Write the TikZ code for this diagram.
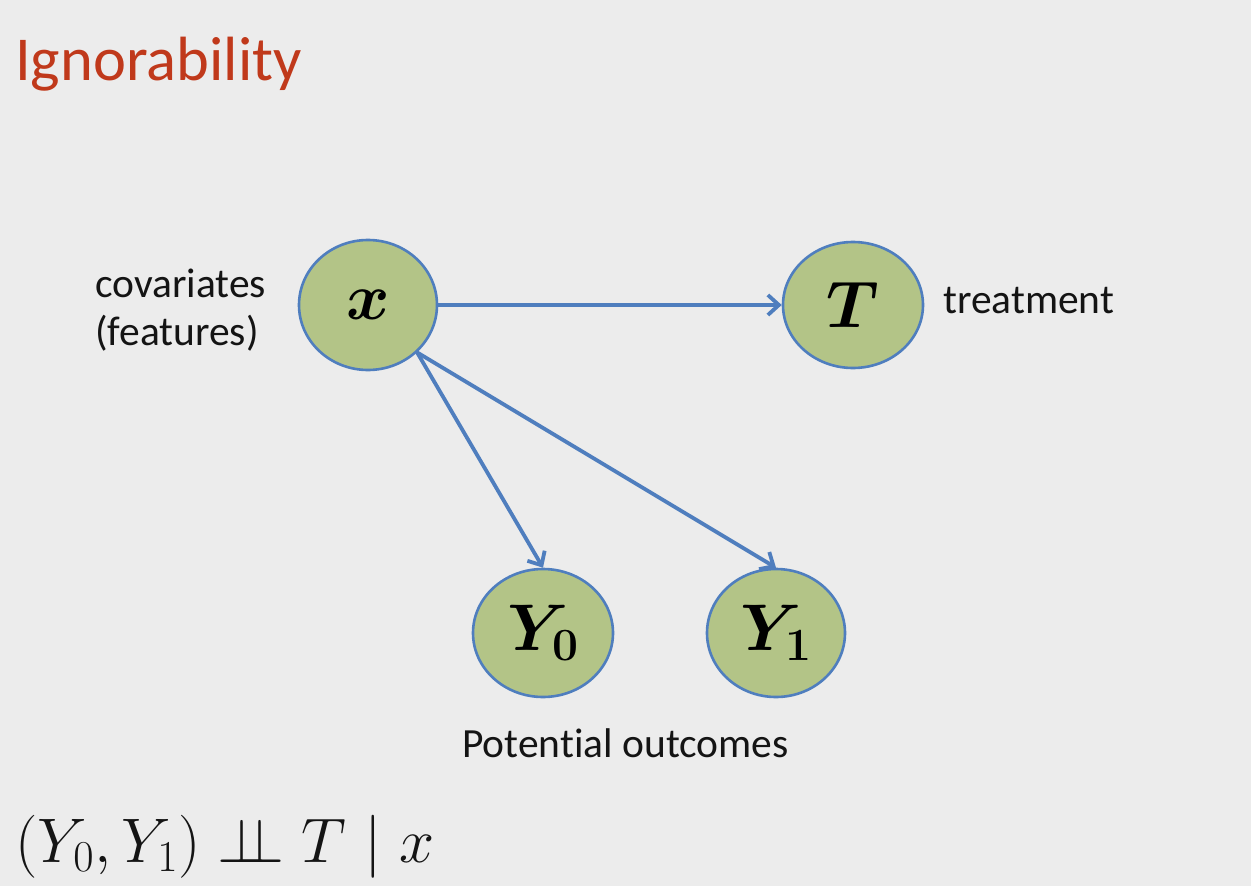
\RequirePackage{fix-cm}
\documentclass[tikz,border=0pt]{standalone}
\usepackage{amsmath}
\usepackage{bm}
\usepackage{fontspec}
\setmainfont{Carlito}[Ligatures=NoCommon]
\usetikzlibrary{shapes.geometric,arrows.meta}

\definecolor{slidebg}{RGB}{236,236,236}
\definecolor{titlered}{RGB}{192,57,27}
\definecolor{nodefill}{RGB}{179,196,135}
\definecolor{edgeblue}{RGB}{79,126,190}
\definecolor{textgray}{RGB}{20,20,20}

\tikzset{
  varnode/.style={ellipse, draw=edgeblue, line width=2.6pt, fill=nodefill,
    inner sep=0pt, font=\fontsize{66}{66}\selectfont},
  link/.style={draw=edgeblue, line width=3.8pt,
    -{Straight Barb[length=11pt,width=20pt,line width=3.8pt]}},
  caption/.style={text=textgray, font=\fontsize{41.5}{48}\selectfont, inner sep=0pt}
}

\begin{document}
\begin{tikzpicture}[x=1pt,y=-1pt]
  % slide background
  \fill[slidebg] (0,0) rectangle (1251,886);
  \useasboundingbox (0,0) rectangle (1251,886);

  % title
  \node[anchor=base west, inner sep=0pt, text=titlered,
        font=\fontsize{62.5}{62.5}\selectfont] (title) at (15,80) {Ignorability};

  % causal graph
  \node[varnode, minimum width=138pt, minimum height=130pt] (x)  at (368,305) {$\bm{x}$};
  \node[varnode, minimum width=140pt, minimum height=126pt] (T)  at (853,305) {$\bm{T}$};
  \node[varnode, minimum width=140pt, minimum height=128pt] (Y0) at (543,633) {$\bm{Y_0}$};
  \node[varnode, minimum width=138pt, minimum height=128pt] (Y1) at (776,633) {$\bm{Y_1}$};

  \draw[link] (x.east) -- (T.west);
  \draw[link] (x.-44) -- (Y0.north);
  \draw[link] (x.-44) -- (Y1.north);

  % captions
  \node[caption, anchor=base west, align=left] (cov) at (95,345)
       {covariates\\(features)};
  \node[caption, anchor=base west] (treat) at (943,313) {treatment};
  \node[caption, anchor=base west] (pot) at (462,757) {Potent\kern0pt ial outcomes};

  % ignorability statement
  \node[anchor=base west, inner sep=0pt, text=textgray,
        font=\fontsize{63}{63}\selectfont] (formula) at (15,862)
       {$(Y_0, Y_1) \perp\!\!\!\perp T \mid x$};
\end{tikzpicture}
\end{document}
